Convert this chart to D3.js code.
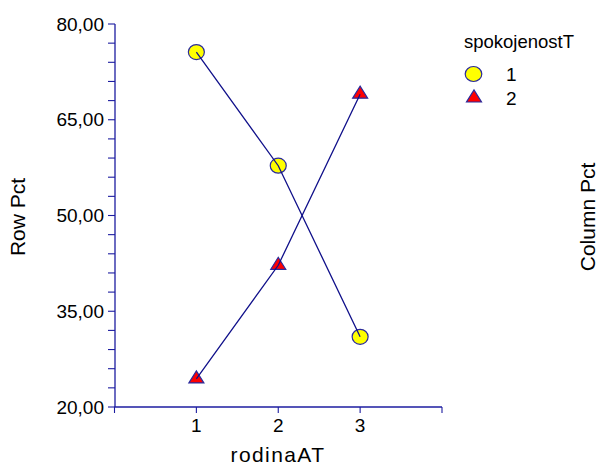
<!DOCTYPE html>
<html>
<head>
<meta charset="utf-8">
<script src="https://cdn.jsdelivr.net/npm/d3@7"></script>
<style>
  html, body { margin: 0; padding: 0; background: #fff; }
  svg { display: block; font-family: Arial, "Liberation Sans", sans-serif; }
</style>
</head>
<body>
<svg id="chart" width="598" height="466"></svg>
<script>
// rodinaAT categories and row percentages per spokojenostT level
const categories = [1, 2, 3];
const seriesNames = ["1", "2"];
const rowPct1 = [75.6, 57.8, 31.0];
const rowPct2 = [24.4, 42.2, 69.0];
const yTickValues = [20, 35, 50, 65, 80];
const yTickLabels = ["20,00", "35,00", "50,00", "65,00", "80,00"];

const axisColor = "#1c1ca0";
const lineColor = "#10108a";
const markerStroke = "#2a2a9c";

const svg = d3.select("#chart");

const x = d3.scaleLinear().domain([0, 4]).range([114.5, 442]);
const y = d3.scaleLinear().domain([20, 80]).range([407, 24]);

// y axis with minor ticks every 3 units
const yMinor = d3.range(20, 80.001, 3);
const yAxisG = svg.append("g").attr("transform", "translate(115,0)");
yAxisG.append("line")
  .attr("x1", 0).attr("x2", 0).attr("y1", y(80)).attr("y2", y(20))
  .attr("stroke", axisColor).attr("stroke-width", 1.3);
yAxisG.selectAll("line.minor").data(yMinor).enter().append("line")
  .attr("class", "minor")
  .attr("x1", -7).attr("x2", 0)
  .attr("y1", d => y(d)).attr("y2", d => y(d))
  .attr("stroke", axisColor).attr("stroke-width", 1.1);
yAxisG.selectAll("text").data(yTickValues).enter().append("text")
  .attr("x", -11).attr("y", d => y(d))
  .attr("dy", "0.35em")
  .attr("text-anchor", "end")
  .attr("font-size", 19)
  .attr("fill", "#000")
  .text((d, i) => yTickLabels[i]);

// x axis
const xAxisG = svg.append("g").attr("transform", `translate(0,${y(20)})`);
xAxisG.append("line")
  .attr("x1", x(0)).attr("x2", x(4)).attr("y1", 0).attr("y2", 0)
  .attr("stroke", axisColor).attr("stroke-width", 1.3);
xAxisG.selectAll("line.tick").data([0, 1, 2, 3, 4]).enter().append("line")
  .attr("class", "tick")
  .attr("x1", d => x(d)).attr("x2", d => x(d)).attr("y1", 0).attr("y2", 6)
  .attr("stroke", axisColor).attr("stroke-width", 1.1);
xAxisG.selectAll("text").data(categories).enter().append("text")
  .attr("x", d => x(d)).attr("y", 25)
  .attr("text-anchor", "middle")
  .attr("font-size", 19)
  .attr("fill", "#000")
  .text(d => d);

// axis titles
svg.append("text")
  .attr("x", 278).attr("y", 462)
  .attr("text-anchor", "middle").attr("font-size", 21)
  .attr("letter-spacing", "1.4px")
  .text("rodinaAT");
svg.append("text")
  .attr("transform", "translate(25,217) rotate(-90)")
  .attr("text-anchor", "middle").attr("font-size", 21)
  .text("Row Pct");
svg.append("text")
  .attr("transform", "translate(595,217) rotate(-90)")
  .attr("text-anchor", "middle").attr("font-size", 21)
  .text("Column Pct");

// markers
const triPath = (cx, cy, w, h) =>
  `M${cx - w / 2},${cy + h / 3} L${cx + w / 2},${cy + h / 3} L${cx},${cy - 2 * h / 3} Z`;

const pts1 = categories.map((c, i) => [x(c), y(rowPct1[i])]);
const pts2 = categories.map((c, i) => [x(c), y(rowPct2[i])]);

svg.selectAll("ellipse.s1").data(pts1).enter().append("ellipse")
  .attr("cx", d => d[0]).attr("cy", d => d[1])
  .attr("rx", 8).attr("ry", 7.5)
  .attr("fill", "#ffff00").attr("stroke", markerStroke).attr("stroke-width", 1.2);

svg.selectAll("path.s2").data(pts2).enter().append("path")
  .attr("d", d => triPath(d[0], d[1], 15, 12))
  .attr("fill", "#ff0000").attr("stroke", markerStroke).attr("stroke-width", 1.2);

// connecting lines drawn over the markers
const line = d3.line();
svg.append("path").attr("d", line(pts1))
  .attr("fill", "none").attr("stroke", lineColor).attr("stroke-width", 1.3);
svg.append("path").attr("d", line(pts2))
  .attr("fill", "none").attr("stroke", lineColor).attr("stroke-width", 1.3);

// legend
const lg = svg.append("g");
lg.append("text").attr("x", 464).attr("y", 48).attr("font-size", 18.5).text("spokojenostT");
lg.append("ellipse").attr("cx", 473.5).attr("cy", 74)
  .attr("rx", 8.3).attr("ry", 7.5)
  .attr("fill", "#ffff00").attr("stroke", markerStroke).attr("stroke-width", 1.2);
lg.append("path").attr("d", triPath(474, 98, 15, 12))
  .attr("fill", "#ff0000").attr("stroke", markerStroke).attr("stroke-width", 1.2);
lg.append("text").attr("x", 506).attr("y", 81).attr("font-size", 19).text(seriesNames[0]);
lg.append("text").attr("x", 506).attr("y", 105).attr("font-size", 19).text(seriesNames[1]);
</script>
</body>
</html>
